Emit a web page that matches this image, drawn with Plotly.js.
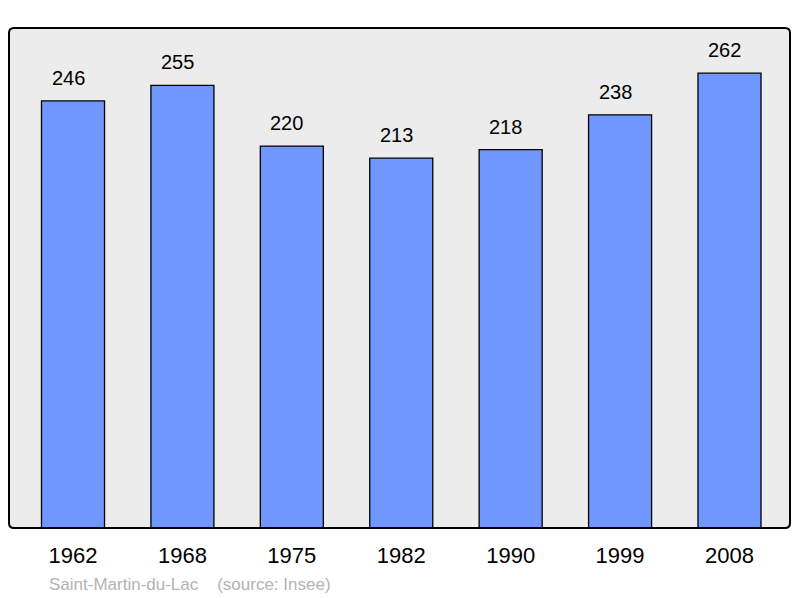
<!DOCTYPE html>
<html>
<head>
<meta charset="utf-8">
<script src="https://cdn.plot.ly/plotly-3.0.1.min.js"></script>
<style>html,body{margin:0;padding:0;background:#fff;}#chart{width:800px;height:598px;}</style>
</head>
<body>
<div id="chart"></div>
<script>
const years = ["1962", "1968", "1975", "1982", "1990", "1999", "2008"];
const population = [246, 255, 220, 213, 218, 238, 262];
const footer = "Saint-Martin-du-Lac    (source: Insee)";

const trace = {
  type: "bar",
  x: years,
  y: population,
  width: 0.576,
  marker: {color: "#7097ff", line: {color: "#000", width: 1.3}},
  hoverinfo: "skip"
};

const annotations = years.map((yr, i) => ({
  x: i, y: population[i], xref: "x", yref: "y",
  text: String(population[i]), showarrow: false,
  yanchor: "bottom", yshift: 10, xshift: -5,
  font: {family: "Liberation Sans, Arial, sans-serif", size: 20, color: "#000"}
}));
annotations.push({
  xref: "paper", yref: "paper", x: 0.049, y: -0.112, xanchor: "left", yanchor: "middle",
  text: footer.replace(/ /g, "&nbsp;"), showarrow: false,
  font: {family: "Liberation Sans, Arial, sans-serif", size: 17, color: "#b3b3b3"}
});

const rx = 5 / 781, ry = 5 / 500;
const borderPath = `M ${rx} 0 L ${1 - rx} 0 Q 1 0 1 ${ry} L 1 ${1 - ry} Q 1 1 ${1 - rx} 1 L ${rx} 1 Q 0 1 0 ${1 - ry} L 0 ${ry} Q 0 0 ${rx} 0 Z`;

const layout = {
  width: 800, height: 598,
  margin: {l: 9, r: 10, t: 28, b: 70, pad: 0},
  paper_bgcolor: "#ffffff",
  plot_bgcolor: "#ececec",
  showlegend: false,
  xaxis: {
    type: "category", range: [-0.585, 6.553], showgrid: false, zeroline: false,
    showline: false, ticks: "", ticklabelstandoff: 12,
    tickfont: {family: "Liberation Sans, Arial, sans-serif", size: 22, color: "#000"},
    fixedrange: true
  },
  yaxis: {
    range: [0, 288], showgrid: false, zeroline: false, showticklabels: false,
    ticks: "", showline: false, fixedrange: true
  },
  shapes: [{
    type: "path", xref: "paper", yref: "paper", path: borderPath,
    line: {color: "#000", width: 2}, fillcolor: "rgba(0,0,0,0)", layer: "above"
  }],
  annotations: annotations
};

Plotly.newPlot("chart", [trace], layout, {staticPlot: true, displayModeBar: false});
</script>
</body>
</html>
